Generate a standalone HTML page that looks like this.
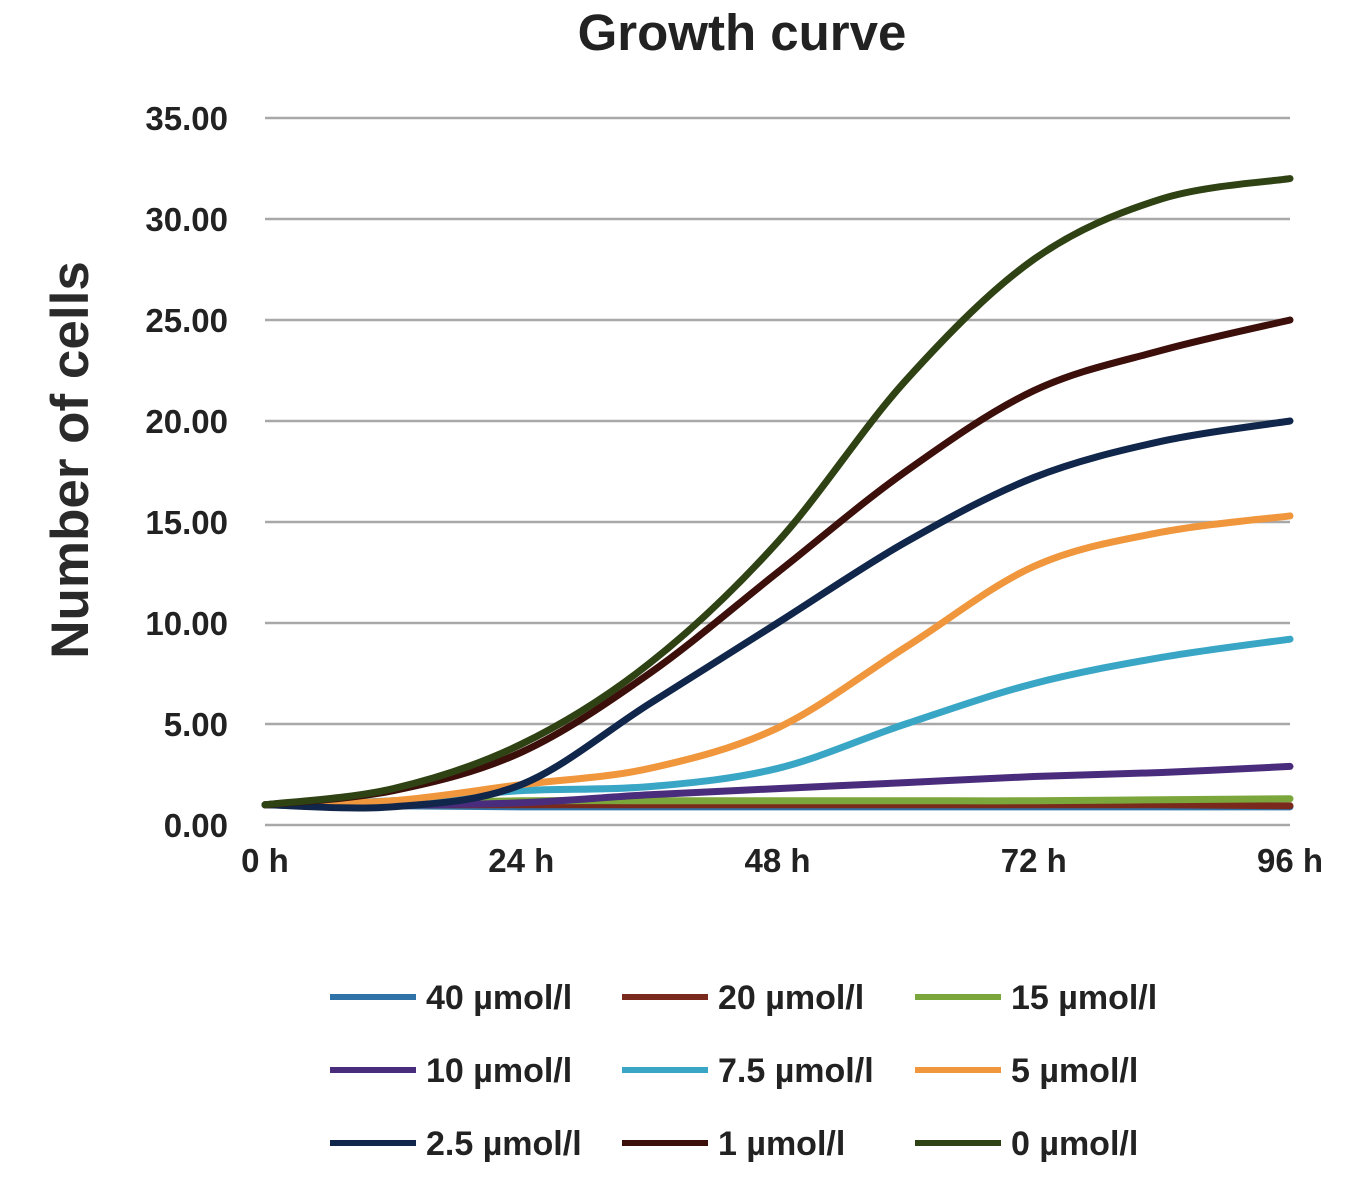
<!DOCTYPE html>
<html><head><meta charset="utf-8"><style>
body{margin:0;background:#fff;}
svg{display:block;font-family:"Liberation Sans",Arial,sans-serif;font-weight:bold;}
</style></head><body>
<svg id="chart" width="1356" height="1185" viewBox="0 0 1356 1185">
<text x="742" y="50" text-anchor="middle" font-size="51" fill="#222">Growth curve</text>
<text transform="translate(88,460) rotate(-90)" text-anchor="middle" font-size="53" fill="#2a2a2a">Number of cells</text>
<g id="grid"></g><g id="series"></g><g id="legend"></g>
</svg>
<script>
const hours=[0,12,24,36,48,60,72,84,96];
const xTicks=["0 h","24 h","48 h","72 h","96 h"];
const yTicks=[0,5,10,15,20,25,30,35];
const seriesNames=["40 µmol/l","20 µmol/l","15 µmol/l","10 µmol/l","7.5 µmol/l","5 µmol/l","2.5 µmol/l","1 µmol/l","0 µmol/l"];
const s40=[1,0.95,0.9,0.9,0.9,0.9,0.9,0.9,0.9];
const s20=[1,1,1,1,1,1,1,1,0.95];
const s15=[1,1.1,1.2,1.2,1.2,1.2,1.2,1.25,1.3];
const s10=[1,1.0,1.1,1.5,1.8,2.1,2.4,2.6,2.9];
const s7_5=[1,1.2,1.7,1.9,2.8,5.0,7.0,8.3,9.2];
const s5=[1,1.2,2.0,2.8,4.8,8.8,12.8,14.5,15.3];
const s2_5=[1,0.9,2.0,6.0,10,14,17.2,19,20];
const s1=[1,1.7,3.6,7.5,12.5,17.5,21.5,23.5,25];
const s0=[1,1.8,4.0,8.0,14,22,28,31,32];
const seriesValues=[s40,s20,s15,s10,s7_5,s5,s2_5,s1,s0];
const colors=["#2f72a8","#7a2a1c","#7ba63c","#4a2c7c","#3aa6c6","#f0963c","#10264a","#3c0f0b","#2f4214"];
const NS="http://www.w3.org/2000/svg";
const x0=265,x1=1290,y0=825,y1=118;
const xs=h=>x0+(h/96)*(x1-x0);
const ys=v=>y0-(v/35)*(y0-y1);
function mk(t,a,p){const e=document.createElementNS(NS,t);for(const k in a)e.setAttribute(k,a[k]);p.appendChild(e);return e;}
const grid=document.getElementById('grid');
yTicks.forEach(v=>{
 const l=mk('line',{x1:x0,x2:x1,y1:ys(v),y2:ys(v),stroke:'#a8a8a8','stroke-width':2.5},grid);
 
 
 const t=mk('text',{x:228,y:ys(v)+12,'text-anchor':'end','font-size':33,fill:'#222'},grid);
 t.textContent=v.toFixed(2);
 
 
});
xTicks.forEach((s,i)=>{
 const t=mk('text',{x:xs(i*24),y:872,'text-anchor':'middle','font-size':33,fill:'#222'},grid);
 t.textContent=s;
 
 
});
function pathD(vals){
 const p=vals.map((v,i)=>[xs(hours[i]),ys(v)]);
 let d=`M${p[0][0]},${p[0][1]}`;
 for(let i=0;i<p.length-1;i++){
  const a=p[Math.max(i-1,0)],b=p[i],c=p[i+1],e=p[Math.min(i+2,p.length-1)];
  d+=` C${b[0]+(c[0]-a[0])/6},${b[1]+(c[1]-a[1])/6} ${c[0]-(e[0]-b[0])/6},${c[1]-(e[1]-b[1])/6} ${c[0]},${c[1]}`;
 }
 return d;
}
const sg=document.getElementById('series');
seriesValues.forEach((vals,i)=>{
 const p=mk('path',{d:pathD(vals),fill:'none',stroke:colors[i],'stroke-width':7,'stroke-linecap':'round'},sg);
 
 
});
const lg=document.getElementById('legend');
const colX=[330,622,915],rowY=[997,1070,1143];
seriesNames.forEach((n,i)=>{
 const cx=colX[i%3],cy=rowY[Math.floor(i/3)];
 const l=mk('line',{x1:cx,x2:cx+86,y1:cy,y2:cy,stroke:colors[i],'stroke-width':6},lg);
 
 
 const t=mk('text',{x:cx+96,y:cy+12,'font-size':34,fill:'#222'},lg);
 t.textContent=n;
 
 
});
</script>
</body></html>
